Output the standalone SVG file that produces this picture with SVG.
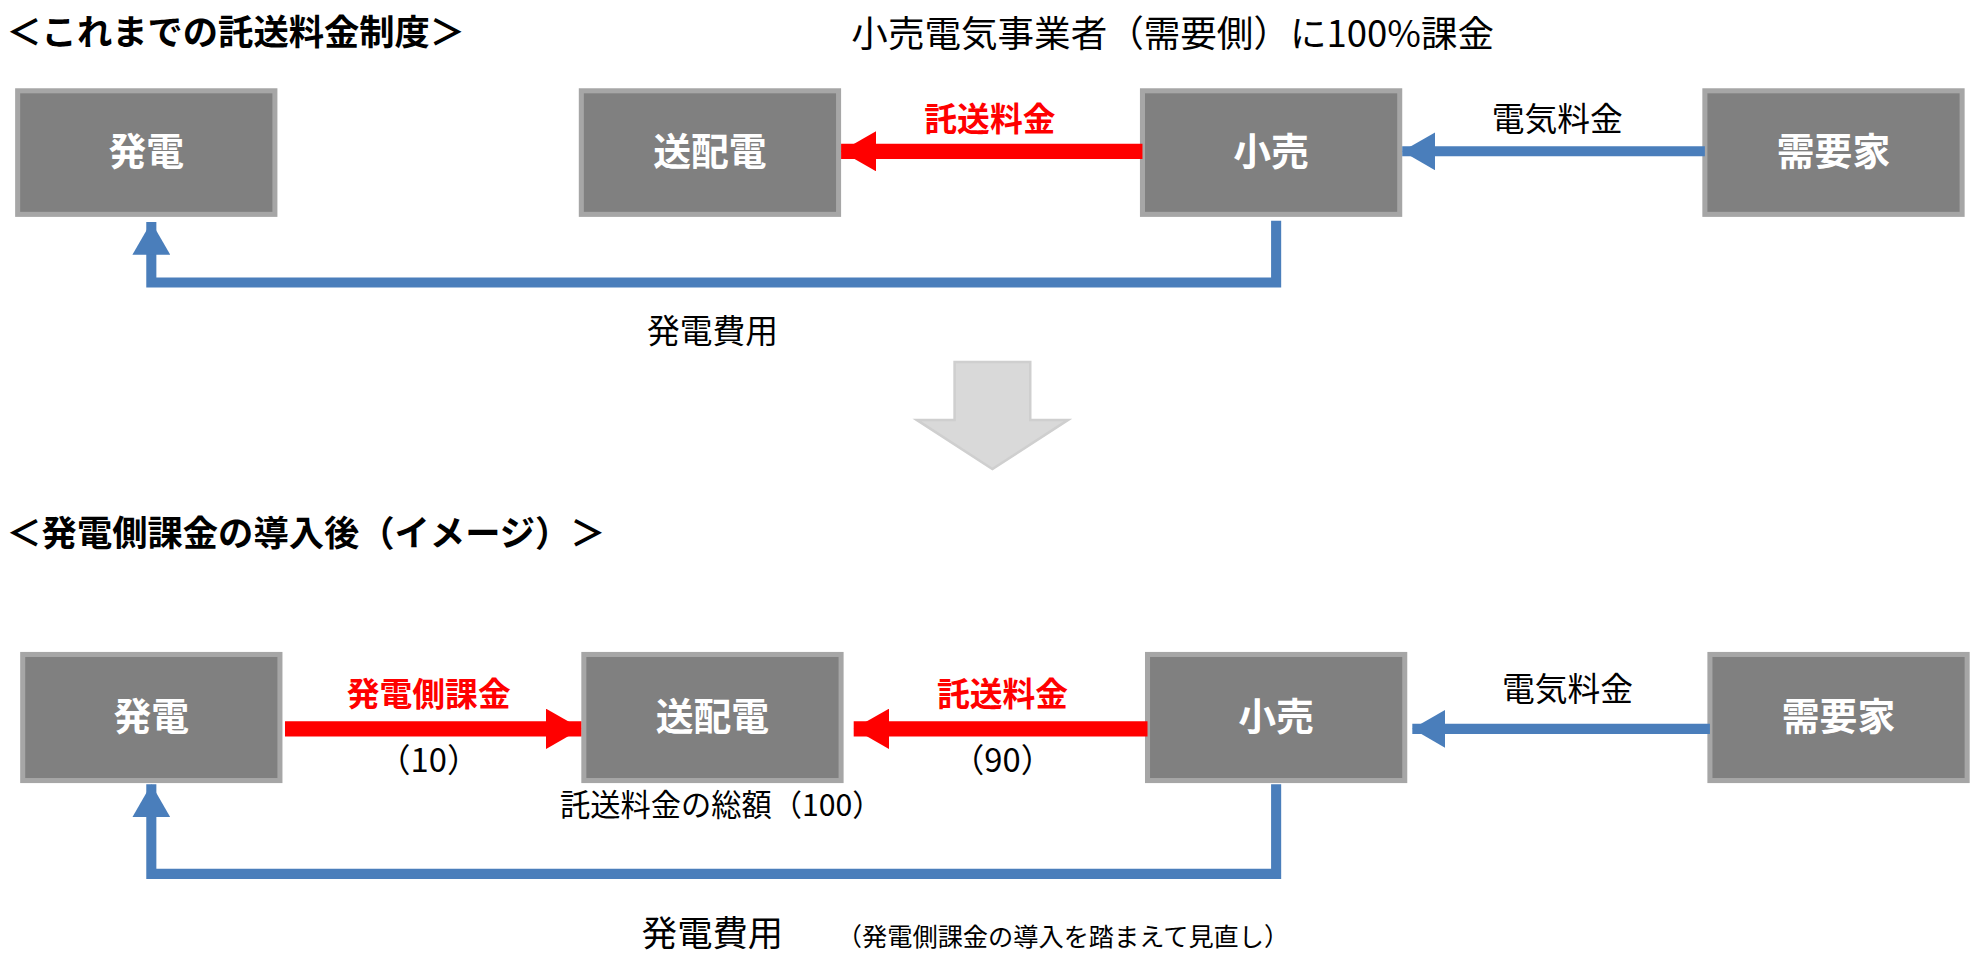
<svg xmlns="http://www.w3.org/2000/svg" width="1977" height="960" viewBox="0 0 1977 960">
<style>
.box{fill:#808080;stroke:#a6a6a6;stroke-width:4}
.bl{fill:#fff;font-family:"Noto Sans CJK JP",sans-serif;font-weight:bold;font-size:30px;text-anchor:middle}
.t{font-family:"Noto Sans CJK JP",sans-serif;font-size:26px;fill:#000;text-anchor:middle}
.h{font-family:"Noto Sans CJK JP",sans-serif;font-size:28px;font-weight:bold;fill:#000}
.r{font-family:"Noto Sans CJK JP",sans-serif;font-size:26px;font-weight:bold;fill:#f00;text-anchor:middle}
.red{stroke:#f00;stroke-width:12;fill:none}
.blue{stroke:#4a7ebb;stroke-width:8;fill:none}
</style>
<defs>
<marker id="ar" markerUnits="userSpaceOnUse" markerWidth="30" markerHeight="32" refX="28" refY="16" orient="auto"><path d="M0,0 L28,16 L0,32 Z" fill="#f00"/></marker>
<marker id="ab" markerUnits="userSpaceOnUse" markerWidth="28" markerHeight="30" refX="26" refY="15" orient="auto"><path d="M0,0 L26,15 L0,30 Z" fill="#4a7ebb"/></marker>
</defs>
<rect width="1977" height="960" fill="#fff"/>
<g transform="scale(1.261)">
<text class="h" x="5" y="36">＜これまでの託送料金制度＞</text>
<text class="t" x="930" y="37" style="font-size:29px">小売電気事業者（需要側）に100%課金</text>
<g id="n1"><rect class="box" x="14" y="72" width="204" height="98"/><text class="bl" x="116" y="131">発電</text></g>
<g id="n2"><rect class="box" x="461" y="72" width="204" height="98"/><text class="bl" x="563" y="131">送配電</text></g>
<g id="n3"><rect class="box" x="906" y="72" width="204" height="98"/><text class="bl" x="1008" y="131">小売</text></g>
<g id="n4"><rect class="box" x="1352" y="72" width="204" height="98"/><text class="bl" x="1454" y="131">需要家</text></g>
<g id="connectors1">
<line class="red" x1="906" y1="120" x2="667" y2="120" marker-end="url(#ar)"/>
<line class="blue" x1="1352" y1="120" x2="1112" y2="120" marker-end="url(#ab)"/>
<polyline class="blue" points="1012,175 1012,224 120,224 120,176" marker-end="url(#ab)"/>
<path d="M757,287 H817 V333 H847 L787,372 L727,333 H757 Z" fill="#d9d9d9" stroke="#cfcfcf" stroke-width="2"/>
</g>
<text class="r" x="785" y="104">託送料金</text>
<text class="t" x="1235" y="104">電気料金</text>
<text class="t" x="565" y="272">発電費用</text>

<text class="h" x="5" y="433">＜発電側課金の導入後（イメージ）＞</text>
<g id="m1"><rect class="box" x="18" y="519" width="204" height="100"/><text class="bl" x="120" y="579">発電</text></g>
<g id="m2"><rect class="box" x="463" y="519" width="204" height="100"/><text class="bl" x="565" y="579">送配電</text></g>
<g id="m3"><rect class="box" x="910" y="519" width="204" height="100"/><text class="bl" x="1012" y="579">小売</text></g>
<g id="m4"><rect class="box" x="1356" y="519" width="204" height="100"/><text class="bl" x="1458" y="579">需要家</text></g>
<g id="connectors2">
<line class="red" x1="226" y1="578" x2="461" y2="578" marker-end="url(#ar)"/>
<line class="red" x1="910" y1="578" x2="677" y2="578" marker-end="url(#ar)"/>
<line class="blue" x1="1356" y1="578" x2="1120" y2="578" marker-end="url(#ab)"/>
<polyline class="blue" points="1012,622 1012,693 120,693 120,622" marker-end="url(#ab)"/>
</g>
<text class="r" x="340" y="560">発電側課金</text>
<text class="t" x="340" y="612">（10）</text>
<text class="r" x="795" y="560">託送料金</text>
<text class="t" x="795" y="612">（90）</text>
<text class="t" x="572" y="647" style="font-size:24px">託送料金の総額（100）</text>
<text class="t" x="1243" y="556">電気料金</text>
<text class="t" x="565" y="750" style="font-size:28px">発電費用</text>
<text class="t" x="843" y="750" style="font-size:20px">（発電側課金の導入を踏まえて見直し）</text>
</g>
</svg>
